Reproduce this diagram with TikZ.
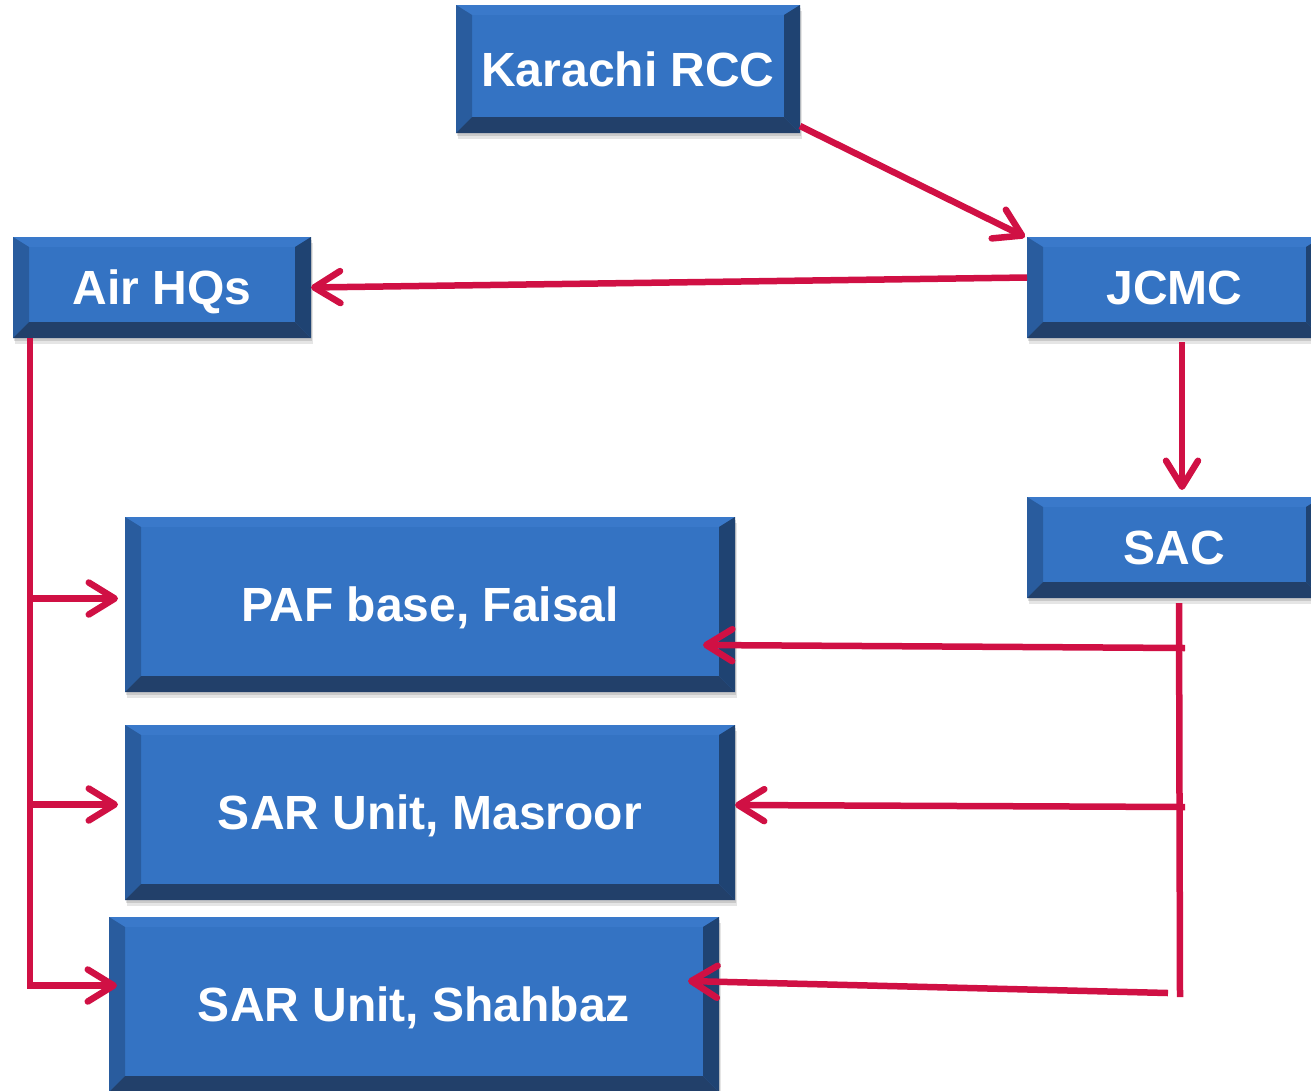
\documentclass[tikz,border=0pt]{standalone}
\usepackage{fontspec}
\setmainfont{Liberation Sans}
\usetikzlibrary{arrows.meta,shadows,calc}
\definecolor{face}{HTML}{3473C3}
\definecolor{bvtopc}{HTML}{3A79CA}
\definecolor{bvleftc}{HTML}{295C9E}
\definecolor{bvrightc}{HTML}{1F4372}
\definecolor{bvbotc}{HTML}{22406A}
\definecolor{arrred}{RGB}{208,16,68}
\tikzset{
  bevbox/.style={
    fill=face, draw=none, inner sep=0pt, outer sep=0pt,
    text=white, font=\bfseries\fontsize{48}{56}\selectfont,
    text height=34pt, text depth=0pt,
    general shadow={shadow xshift=1pt, shadow yshift=-3pt, opacity=0.12, fill=black},
    general shadow={shadow xshift=2pt, shadow yshift=-6pt, opacity=0.10, fill=black},
    path picture={
      \path (path picture bounding box.south west) coordinate (bsw)
            (path picture bounding box.north east) coordinate (bne)
            (path picture bounding box.north west) coordinate (bnw)
            (path picture bounding box.south east) coordinate (bse);
      \fill[bvtopc] (bnw) -- (bne) -- ([shift={(-16pt,-10pt)}]bne) -- ([shift={(16pt,-10pt)}]bnw) -- cycle;
      \fill[bvleftc] (bnw) -- ([shift={(16pt,-10pt)}]bnw) -- ([shift={(16pt,16pt)}]bsw) -- (bsw) -- cycle;
      \fill[bvrightc] (bne) -- (bse) -- ([shift={(-16pt,16pt)}]bse) -- ([shift={(-16pt,-10pt)}]bne) -- cycle;
      \fill[bvbotc] (bsw) -- ([shift={(16pt,16pt)}]bsw) -- ([shift={(-16pt,16pt)}]bse) -- (bse) -- cycle;
    }
  },
  conn/.style={draw=arrred, line width=6.5pt},
  arr/.style={conn, -{Straight Barb[length=26pt,width=32pt,round]}},
}
\begin{document}
\begin{tikzpicture}[x=1pt,y=-1pt]
\path[use as bounding box] (0,0) rectangle (1311,1090);
\clip (0,0) rectangle (1311,1090);
\fill[white] (0,0) rectangle (1311,1090);

\node[bevbox, minimum width=344pt, minimum height=128pt] (K) at (628,69) {Karachi RCC};
\node[bevbox, minimum width=295pt, minimum height=101pt] (J) at (1174.5,287.5) {JCMC};
\node[bevbox, minimum width=298pt, minimum height=101pt] (A) at (162,287.5) {Air HQs};
\node[bevbox, minimum width=295pt, minimum height=101pt] (S) at (1174.5,547.5) {SAC};
\node[bevbox, minimum width=610pt, minimum height=175pt] (P) at (430,604.5) {PAF base, Faisal};
\node[bevbox, minimum width=610pt, minimum height=175pt] (M) at (430,812.5) {SAR Unit, Masroor};
\node[bevbox, minimum width=610pt, minimum height=175pt] (H) at (414,1004.5) {SAR Unit, Shahbaz};

% top connectors
\draw[arr] ([yshift=7pt]K.south east) -- ([xshift=-2pt]J.north west);
\draw[arr] ([yshift=10pt]J.west) -- (A.east);
\draw[arr] ([xshift=7.5pt,yshift=-4pt]J.south) -- ([xshift=7.5pt,yshift=7pt]S.north);

% Air HQs tree
\coordinate (atop) at ([xshift=17pt]A.south west);
\coordinate (tP) at ([xshift=-7pt,yshift=6pt]P.west);
\coordinate (tM) at ([xshift=-7pt,yshift=8pt]M.west);
\coordinate (tH) at ([xshift=8pt,yshift=19pt]H.west);
\draw[arr, line join=miter] (atop) |- (tH);
\draw[arr] (atop |- tP) -- (tP);
\draw[arr] (atop |- tM) -- (tM);

% SAC tree
\coordinate (stop) at ([xshift=4.5pt,yshift=-5pt]S.south);
\coordinate (sbot) at (1180,997);
\draw[conn] (stop) -- (sbot);
\coordinate (tP2) at ([xshift=-32pt,yshift=-40.5pt]P.east);
\coordinate (tM2) at ([yshift=7.5pt]M.east);
\coordinate (tH2) at ([xshift=-31pt,yshift=23.5pt]H.east);
\coordinate (sP) at (1185,648);
\coordinate (sM) at (1185,807);
\coordinate (sH) at (1168,993);
\draw[arr] (sP) -- (tP2);
\draw[arr] (sM) -- (tM2);
\draw[arr] (sH) -- (tH2);
\end{tikzpicture}
\end{document}
